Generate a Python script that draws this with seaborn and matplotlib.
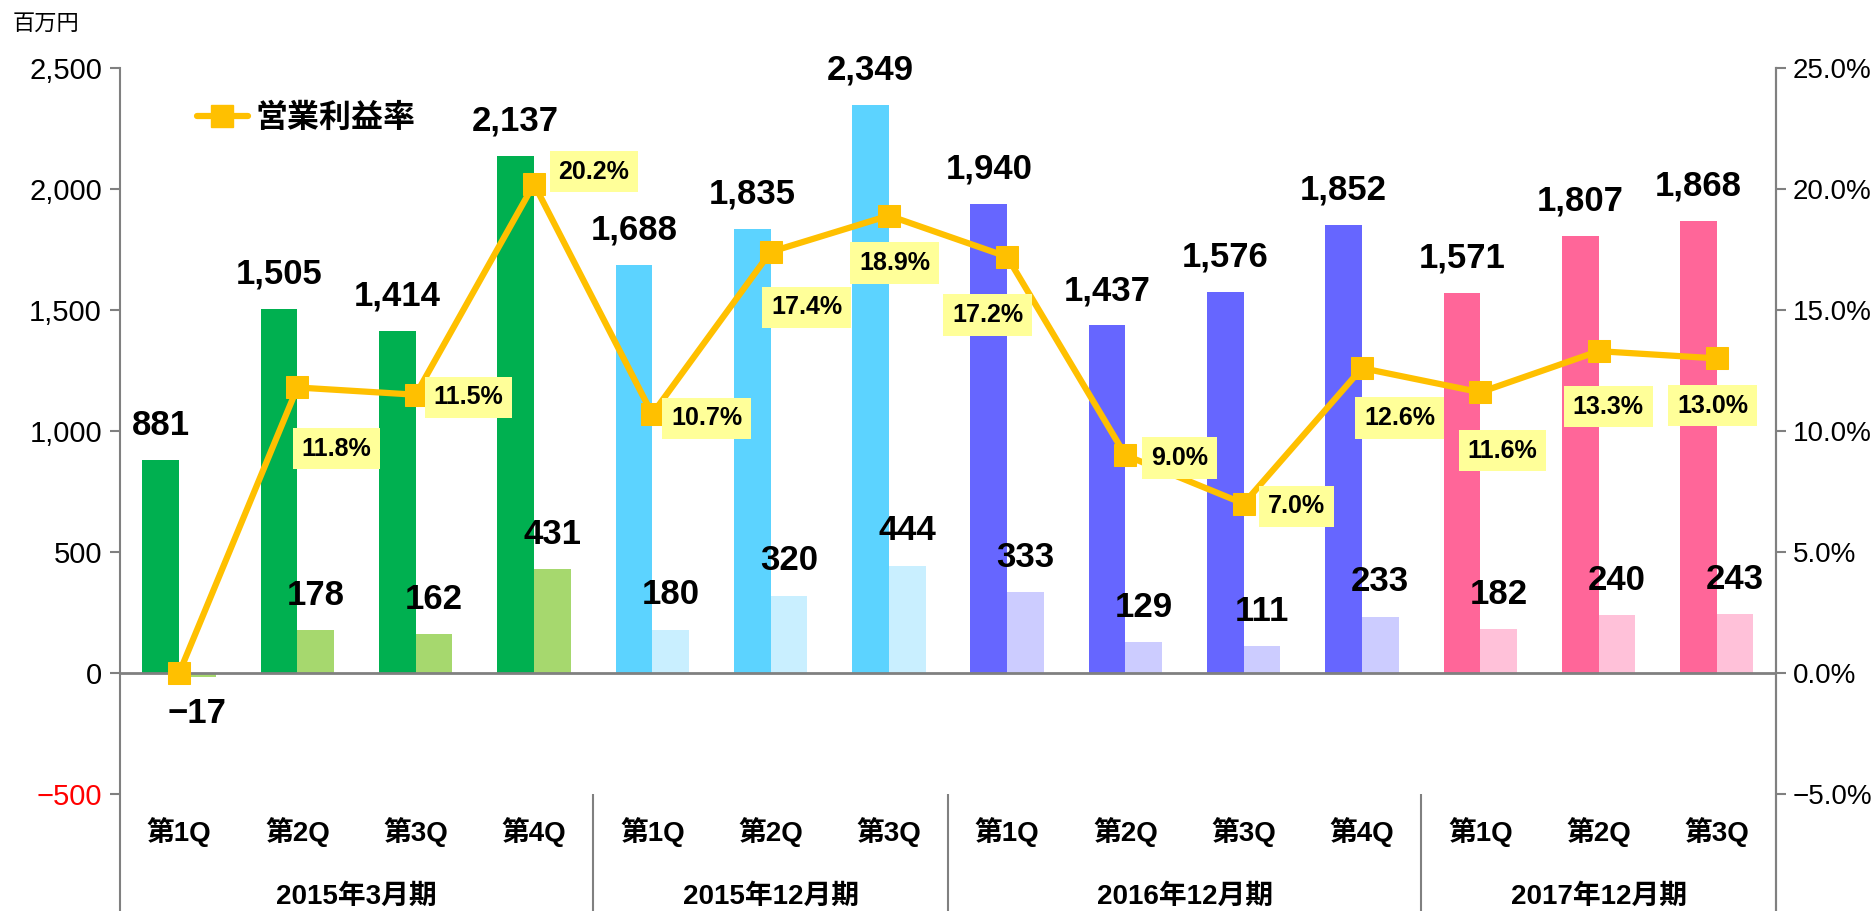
import numpy as np
import pandas as pd
import matplotlib
matplotlib.use('Agg')
import matplotlib.pyplot as plt
from matplotlib.lines import Line2D
from matplotlib.ticker import FuncFormatter
import seaborn as sns

# data
periods = ['2015年3月期', '2015年12月期', '2016年12月期', '2017年12月期']
quarters = ['第1Q', '第2Q', '第3Q', '第4Q',
            '第1Q', '第2Q', '第3Q',
            '第1Q', '第2Q', '第3Q', '第4Q',
            '第1Q', '第2Q', '第3Q']
period_of = [0, 0, 0, 0, 1, 1, 1, 2, 2, 2, 2, 3, 3, 3]
sales = [881, 1505, 1414, 2137, 1688, 1835, 2349, 1940, 1437, 1576, 1852, 1571, 1807, 1868]
profit = [-17, 178, 162, 431, 180, 320, 444, 333, 129, 111, 233, 182, 240, 243]
margin = [0.0, 11.8, 11.5, 20.2, 10.7, 17.4, 18.9, 17.2, 9.0, 7.0, 12.6, 11.6, 13.3, 13.0]
margin_labeled = [False] + [True] * 13

# colours per period, dark = sales, light = operating profit
dark_cols = ['#00B050', '#5CD3FF', '#6666FF', '#FF6699']
light_cols = ['#A6D86E', '#C9EFFF', '#CCCCFF', '#FFC1D9']
line_col = '#FFC000'
axis_col = '#808080'

# label offsets (points) for the margin boxes, picked to match the reference
pct_offsets = [(0, 0), (28, -44), (38, -2), (43, 9), (39, -3), (26, -40), (4, -34),
               (-14, -42), (39, -2), (38, -2), (27, -36), (16, -42), (7, -40), (-3, -34)]

sns.set_theme(style='white')
FONT = ['Liberation Sans', 'Noto Sans CJK JP', 'DejaVu Sans']
plt.rcParams['font.family'] = FONT
plt.rcParams['text.color'] = 'black'
plt.rcParams['ytick.labelcolor'] = 'black'
plt.rcParams['axes.unicode_minus'] = True

keys = [f'{periods[p]}-{q}-{i}' for i, (p, q) in enumerate(zip(period_of, quarters))]
df = pd.DataFrame({
    'key': keys * 2,
    'value': sales + profit,
    'series': ['売上高'] * len(keys) + ['営業利益'] * len(keys),
})

fig = plt.figure(figsize=(18.72, 9.11), dpi=100)
ax = fig.add_axes([0.0641, 0.0, 0.8846, 0.9254])

sns.barplot(data=df, x='key', y='value', hue='series', order=keys,
            hue_order=['売上高', '営業利益'], width=0.62, gap=0,
            legend=False, ax=ax, saturation=1)
n = len(keys)
for j, patch in enumerate(ax.patches[:2 * n]):
    i = j % n
    cols = dark_cols if j < n else light_cols
    patch.set_facecolor(cols[period_of[i]])
    patch.set_edgecolor('none')

ymin = -983
ax.set_ylim(ymin, 2500)
ax.set_xlim(-0.5, n - 0.5)
ax.set_yticks([-500, 0, 500, 1000, 1500, 2000, 2500])
ax.yaxis.set_major_formatter(FuncFormatter(lambda v, _: f'{int(v):,}'.replace('-', '\u2212')))
ax.tick_params(axis='y', labelsize=21, length=7, width=1.5, color=axis_col,
               pad=6, left=True)
ax.get_yticklabels()[0].set_color('red')
ax.set_xticks([])
ax.set_xlabel('')
ax.set_ylabel('')
for side in ['top', 'bottom']:
    ax.spines[side].set_visible(False)
for side in ['left', 'right']:
    ax.spines[side].set_color(axis_col)
    ax.spines[side].set_linewidth(1.5)
ax.axhline(0, color=axis_col, lw=2, zorder=3)
ax.vlines([3.5, 6.5, 10.5], ymin, -500, color=axis_col, lw=1.5)

# category labels under the plot
for i, q in enumerate(quarters):
    ax.text(i, -655, q, ha='center', va='center', fontsize=20, fontweight='bold')
for p, name in enumerate(periods):
    idx = [i for i, v in enumerate(period_of) if v == p]
    ax.text(np.mean(idx), -925, name, ha='center', va='center',
            fontsize=20, fontweight='bold')

# value labels on the bars
for i in range(n):
    ax.annotate(f'{sales[i]:,}', (i - 0.155, sales[i]), xytext=(0, 25),
                textcoords='offset points', ha='center', va='center',
                fontsize=25, fontweight='bold')
    off = 25 if profit[i] >= 0 else -29
    ax.annotate(f'{profit[i]:,}'.replace('-', '\u2212'), (i + 0.155, max(profit[i], 0)),
                xytext=(0, off), textcoords='offset points', ha='center',
                va='center', fontsize=25, fontweight='bold')

fig.text(13 / 1872, 1 - 24 / 911, '百万円', fontsize=16, ha='left', va='center')

# operating margin on the right axis
ax2 = ax.twinx()
sns.lineplot(x=np.arange(n), y=margin, ax=ax2, color=line_col, lw=4.5,
             marker='s', markersize=16, markeredgecolor=line_col, zorder=5)
ax2.set_ylim(ymin / 100, 25)
ax2.set_yticks([-5, 0, 5, 10, 15, 20, 25])
ax2.yaxis.set_major_formatter(FuncFormatter(lambda v, _: f'{v:.1f}%'.replace('-', '\u2212')))
ax2.tick_params(axis='y', labelsize=20, length=7, width=1.5, color=axis_col,
                pad=5, right=True)
for side in ['top', 'bottom', 'left']:
    ax2.spines[side].set_visible(False)
ax2.spines['right'].set_color(axis_col)
ax2.spines['right'].set_linewidth(1.5)
ax2.grid(False)
ax.grid(False)

for i in range(n):
    if not margin_labeled[i]:
        continue
    ax2.annotate(f'{margin[i]:.1f}%', (i, margin[i]), xytext=pct_offsets[i],
                 textcoords='offset points', ha='center', va='center',
                 fontsize=18, fontweight='bold', zorder=6,
                 bbox=dict(boxstyle='square,pad=0.35', fc='#FFFF99', ec='none'))

handle = Line2D([], [], color=line_col, lw=4.5, marker='s', markersize=16)
ax2.legend([handle], ['営業利益率'], loc='center left', bbox_to_anchor=(0.029, 0.94),
           frameon=False, handlelength=1.6, handletextpad=0.25,
           prop=dict(family=FONT, size=23, weight='bold'))

fig.savefig('out.png', dpi=100)
